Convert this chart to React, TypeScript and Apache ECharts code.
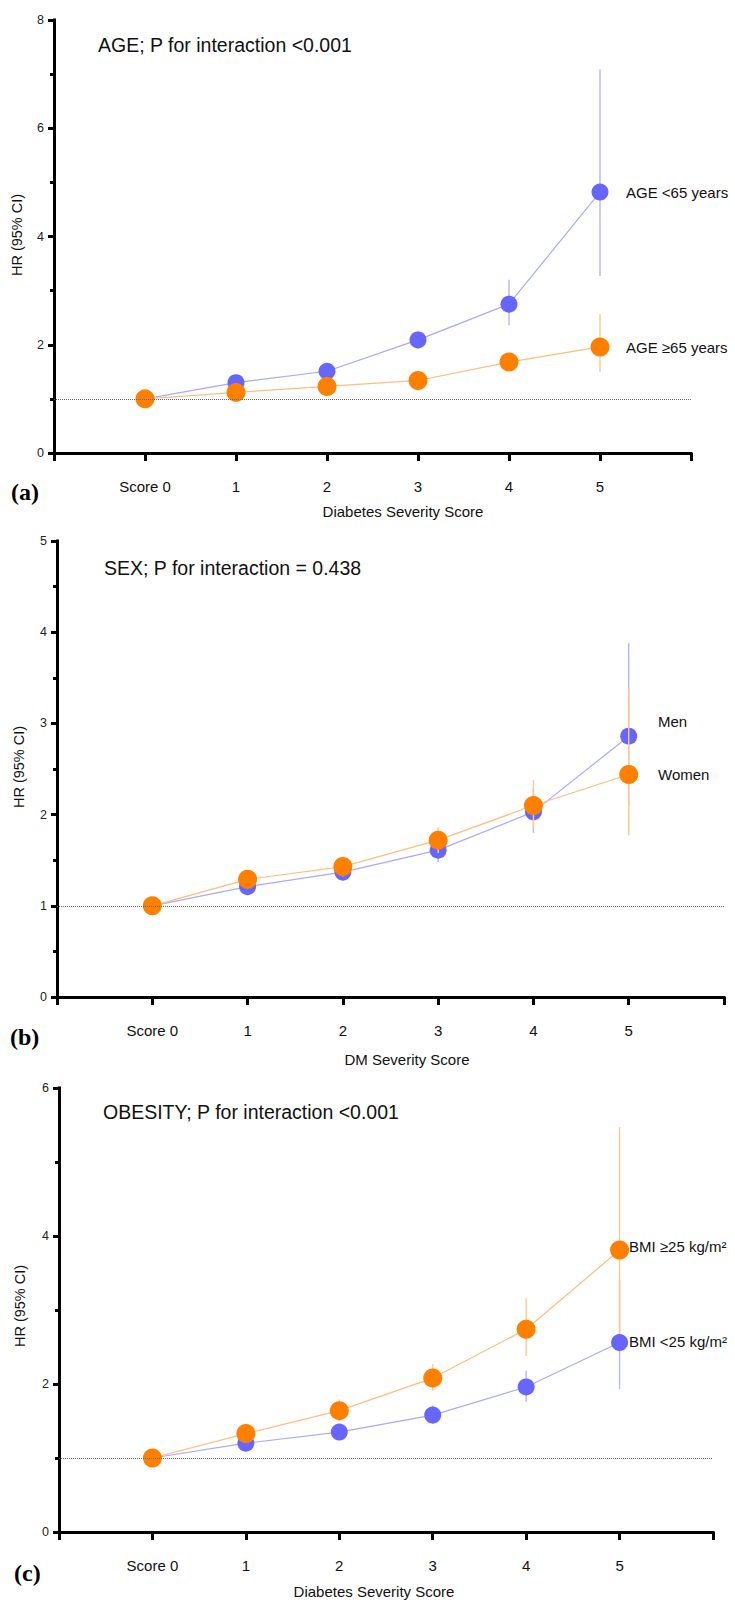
import React, { useEffect, useRef } from "react";
import * as echarts from "echarts";

// ---------- data ----------
const scores = [0, 1, 2, 3, 4, 5];

// Panel (a) AGE
const ageYoungHR = [1.0, 1.3, 1.51, 2.09, 2.75, 4.82];
const ageYoungLo = [1.0, 1.2, 1.4, 1.93, 2.36, 3.27];
const ageYoungHi = [1.0, 1.4, 1.63, 2.26, 3.2, 7.09];
const ageOldHR = [1.0, 1.12, 1.23, 1.34, 1.68, 1.96];
const ageOldLo = [1.0, 1.07, 1.16, 1.25, 1.55, 1.49];
const ageOldHi = [1.0, 1.17, 1.31, 1.44, 1.83, 2.57];

// Panel (b) SEX
const menHR = [1.0, 1.21, 1.37, 1.61, 2.03, 2.86];
const menLo = [1.0, 1.12, 1.27, 1.48, 1.8, 2.1];
const menHi = [1.0, 1.31, 1.48, 1.76, 2.29, 3.88];
const womenHR = [1.0, 1.29, 1.43, 1.72, 2.1, 2.44];
const womenLo = [1.0, 1.19, 1.32, 1.58, 1.86, 1.77];
const womenHi = [1.0, 1.39, 1.54, 1.86, 2.38, 3.38];

// Panel (c) OBESITY
const bmiLowHR = [1.0, 1.2, 1.35, 1.58, 1.96, 2.56];
const bmiLowLo = [1.0, 1.12, 1.26, 1.46, 1.76, 1.93];
const bmiLowHi = [1.0, 1.29, 1.45, 1.71, 2.18, 3.4];
const bmiHighHR = [1.0, 1.33, 1.64, 2.08, 2.74, 3.81];
const bmiHighLo = [1.0, 1.23, 1.5, 1.91, 2.38, 2.68];
const bmiHighHi = [1.0, 1.44, 1.79, 2.27, 3.16, 5.47];

const yMax = [8, 5, 6];
const yLabelStep = [2, 1, 2];

const FONT = "Liberation Sans, Arial, sans-serif";
const SERIF = "Liberation Serif, Times New Roman, serif";
const BLUE = "#6666ff";
const BLUE_LINE = "#a9a9ff";
const ORANGE = "#ff8000";
const ORANGE_LINE = "#ffbd7f";

function ciSeries(idx: number, lo: number[], hi: number[], color: string, z: number) {
  return {
    type: "custom",
    xAxisIndex: idx,
    yAxisIndex: idx,
    silent: true,
    z,
    encode: { x: 0, y: [1, 2] },
    data: scores.map((s, i) => [s, lo[i], hi[i]]),
    renderItem: (_p: any, api: any) => {
      const a = api.coord([api.value(0), api.value(1)]);
      const b = api.coord([api.value(0), api.value(2)]);
      return {
        type: "line",
        shape: { x1: a[0], y1: a[1], x2: b[0], y2: b[1] },
        style: { stroke: color, lineWidth: 1.4 },
      };
    },
  };
}

function lineSeries(
  idx: number,
  hr: number[],
  color: string,
  lineColor: string,
  size: number,
  z: number,
  withRef: boolean
) {
  const s: any = {
    type: "line",
    xAxisIndex: idx,
    yAxisIndex: idx,
    data: scores.map((x, i) => [x, hr[i]]),
    symbol: "circle",
    symbolSize: size,
    itemStyle: { color },
    lineStyle: { color: lineColor, width: 1.2 },
    z,
    silent: true,
  };
  if (withRef) {
    s.markLine = {
      silent: true,
      symbol: "none",
      label: { show: false },
      lineStyle: { type: "dotted", color: "#666", width: 1 },
      data: [{ yAxis: 1 }],
    };
  }
  return s;
}

const grids = [
  { left: 54, top: 20, width: 637, height: 433 },
  { left: 57, top: 541, width: 667, height: 456 },
  { left: 59, top: 1088, width: 654, height: 444 },
];

function text(
  t: string,
  x: number,
  y: number,
  size: number,
  align: string = "left",
  extra: any = {}
) {
  return {
    type: "text",
    x,
    y,
    silent: true,
    style: {
      text: t,
      fontSize: size,
      fontFamily: FONT,
      fill: "#111",
      align,
      verticalAlign: "middle",
      ...extra,
    },
  };
}

export default function App() {
  const ref = useRef<HTMLDivElement>(null);
  useEffect(() => {
    document.body.style.margin = "0";
    if (!ref.current) return;
    const chart = echarts.init(ref.current, undefined, { renderer: "svg" });

    const axisLineStyle = { color: "#000", width: 3, cap: "square" };

    const xAxis = grids.map((_, i) => ({
      gridIndex: i,
      type: "value",
      min: -1,
      max: 6,
      interval: 1,
      axisLine: { show: true, onZero: false, lineStyle: axisLineStyle },
      axisTick: { show: true, length: 8, lineStyle: { color: "#000", width: 3 } },
      splitLine: { show: false },
      axisLabel: {
        fontSize: 15,
        fontFamily: FONT,
        color: "#111",
        margin: 26,
        formatter: (v: number) =>
          v === 0 ? "Score 0" : v > 0 && v < 6 ? String(v) : "",
      },
    }));

    const yAxis = grids.map((_, i) => ({
      gridIndex: i,
      type: "value",
      min: 0,
      max: yMax[i],
      interval: yLabelStep[i],
      axisLine: { show: true, onZero: false, lineStyle: axisLineStyle },
      axisTick: { show: true, length: 6, lineStyle: { color: "#000", width: 3 } },
      minorTick: { show: true, splitNumber: 2, length: 4, lineStyle: { color: "#000", width: 3 } },
      splitLine: { show: false },
      minorSplitLine: { show: false },
      axisLabel: { fontSize: 12.5, fontFamily: FONT, color: "#222", margin: 10 },
    }));

    const series: any[] = [
      ciSeries(0, ageYoungLo, ageYoungHi, "#b4b4ff", 1),
      lineSeries(0, ageYoungHR, BLUE, BLUE_LINE, 17, 2, true),
      ciSeries(0, ageOldLo, ageOldHi, "#ffc891", 3),
      lineSeries(0, ageOldHR, ORANGE, ORANGE_LINE, 19, 4, false),

      ciSeries(1, menLo, menHi, "#b4b4ff", 1),
      lineSeries(1, menHR, BLUE, BLUE_LINE, 17, 2, true),
      ciSeries(1, womenLo, womenHi, "#ffc891", 3),
      lineSeries(1, womenHR, ORANGE, ORANGE_LINE, 19, 4, false),

      ciSeries(2, bmiLowLo, bmiLowHi, "#b4b4ff", 1),
      lineSeries(2, bmiLowHR, BLUE, BLUE_LINE, 17, 2, true),
      ciSeries(2, bmiHighLo, bmiHighHi, "#ffc891", 3),
      lineSeries(2, bmiHighHR, ORANGE, ORANGE_LINE, 19, 4, false),
    ];

    const graphic: any[] = [
      // titles
      text("AGE; P for interaction <0.001", 98, 45, 19.5),
      text("SEX; P for interaction = 0.438", 104, 568, 19.5),
      text("OBESITY; P for interaction <0.001", 103, 1112, 19.5),
      // series labels
      text("AGE <65 years", 626, 192, 15),
      text("AGE \u226565 years", 626, 347, 15),
      text("Men", 658, 721, 15),
      text("Women", 658, 774, 15),
      text("BMI \u226525 kg/m\u00b2", 629, 1246, 15),
      text("BMI <25 kg/m\u00b2", 629, 1341, 15),
      // x axis titles
      text("Diabetes Severity Score", 403, 511, 15, "center"),
      text("DM Severity Score", 407, 1059, 15, "center"),
      text("Diabetes Severity Score", 374, 1591, 15, "center"),
      // panel letters
      text("(a)", 11, 492, 24, "left", { fontFamily: SERIF, fontWeight: "bold", fill: "#000" }),
      text("(b)", 10, 1037, 24, "left", { fontFamily: SERIF, fontWeight: "bold", fill: "#000" }),
      text("(c)", 14, 1573, 24, "left", { fontFamily: SERIF, fontWeight: "bold", fill: "#000" }),
    ];
    // y axis titles (rotated)
    const yTitles = [
      [17, 235],
      [19, 767],
      [20, 1306],
    ];
    yTitles.forEach(([x, y]) => {
      graphic.push({
        type: "text",
        x,
        y,
        rotation: Math.PI / 2,
        silent: true,
        style: {
          text: "HR (95% CI)",
          fontSize: 14.5,
          fontFamily: FONT,
          fill: "#111",
          align: "center",
          verticalAlign: "middle",
        },
      });
    });

    chart.setOption({
      animation: false,
      backgroundColor: "#fff",
      grid: grids,
      xAxis,
      yAxis,
      series,
      graphic,
    });
    return () => chart.dispose();
  }, []);
  return <div ref={ref} style={{ width: 735, height: 1600 }} />;
}
